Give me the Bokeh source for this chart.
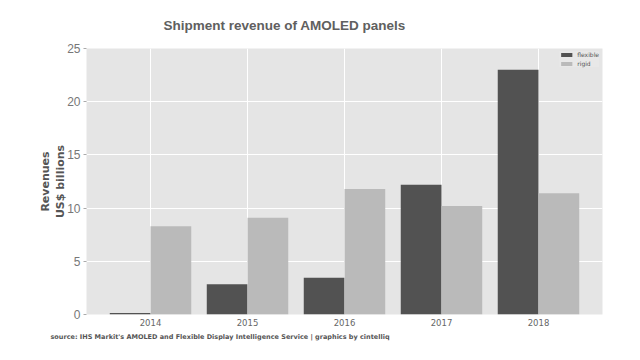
from bokeh.plotting import figure
from bokeh.models import ColumnDataSource, FactorRange, Title, Legend, LegendItem
from bokeh.transform import dodge
from bokeh.embed import file_html
from bokeh.resources import INLINE

years = ["2014", "2015", "2016", "2017", "2018"]
flexible = [0.15, 2.85, 3.45, 12.2, 23.0]
rigid = [8.3, 9.1, 11.8, 10.2, 11.4]

src = ColumnDataSource(dict(years=years, flexible=flexible, rigid=rigid))

p = figure(width=624, height=344, output_backend="svg", toolbar_location=None,
           x_range=FactorRange(*years, range_padding=0.064),
           y_range=(0, 25), min_border_left=86, min_border_right=22,
           min_border_top=47, min_border_bottom=30)
p.background_fill_color = "#e5e5e5"
p.border_fill_color = "white"
p.outline_line_color = None

r1 = p.vbar(x=dodge("years", -0.21, range=p.x_range), top="flexible", width=0.42,
            source=src, fill_color="#525252", line_color=None)
r2 = p.vbar(x=dodge("years", 0.21, range=p.x_range), top="rigid", width=0.42,
            source=src, fill_color="#bababa", line_color=None)

legend = Legend(items=[LegendItem(label="flexible", renderers=[r1]),
                       LegendItem(label="rigid", renderers=[r2])],
                location="top_right", label_text_font_size="6px",
                label_text_color="#555555", glyph_width=14, glyph_height=5,
                label_height=7, label_standoff=4, spacing=2, padding=4, margin=3,
                background_fill_color="#e8e8e8", background_fill_alpha=1.0,
                border_line_color=None, label_text_font="DejaVu Sans")
p.add_layout(legend)

p.xgrid.grid_line_color = "white"
p.ygrid.grid_line_color = "white"

p.xaxis.axis_line_color = None
p.xaxis.major_tick_line_color = None
p.xaxis.major_tick_out = 0
p.xaxis.major_tick_in = 0
p.xaxis.major_label_text_font = "DejaVu Sans"
p.xaxis.major_label_text_font_size = "8.5px"
p.xaxis.major_label_text_color = "#666666"
p.xaxis.major_label_standoff = 4

p.yaxis.axis_line_color = None
p.yaxis.minor_tick_line_color = None
p.yaxis.major_tick_line_color = "#aaaaaa"
p.yaxis.major_tick_out = 3
p.yaxis.major_tick_in = 0
p.yaxis.ticker = [0, 5, 10, 15, 20, 25]
p.yaxis.major_label_text_font = "Liberation Sans"
p.yaxis.major_label_text_font_size = "12px"
p.yaxis.major_label_text_color = "#777777"
p.yaxis.major_label_standoff = 3
p.yaxis.axis_label = "Revenues\nUS$ billions"
p.yaxis.axis_label_text_font = "DejaVu Sans"
p.yaxis.axis_label_text_font_style = "bold"
p.yaxis.axis_label_text_font_size = "11px"
p.yaxis.axis_label_text_color = "#555555"
p.yaxis.axis_label_standoff = -3

p.title.text = "Shipment revenue of AMOLED panels"
p.title.align = "left"
p.title.offset = 77
p.title.standoff = 31
p.title.text_font = "Liberation Sans"
p.title.text_font_style = "bold"
p.title.text_font_size = "13.5px"
p.title.text_color = "#606060"

p.add_layout(Title(text="source: IHS Markit's AMOLED and Flexible Display Intelligence Service | graphics by cintelliq",
                   align="left", offset=-36, standoff=4, text_font="DejaVu Sans",
                   text_font_style="bold", text_font_size="6.5px",
                   text_color="#555555"), "below")

open("out.html", "w").write(file_html(p, INLINE))
